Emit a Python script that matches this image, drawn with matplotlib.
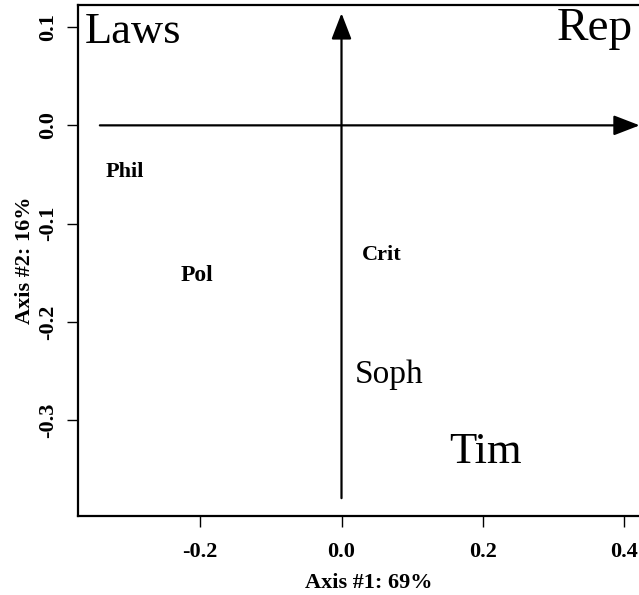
import matplotlib
matplotlib.use('Agg')
import matplotlib.pyplot as plt

plt.rcParams['font.family'] = ['Liberation Serif', 'DejaVu Serif']

# 书名及其在前两个轴上的坐标
labels = ['Laws', 'Rep', 'Phil', 'Pol', 'Crit', 'Soph', 'Tim']
axis1 = [-0.295, 0.359, -0.307, -0.204, 0.057, 0.068, 0.204]
axis2 = [0.095, 0.098, -0.047, -0.153, -0.132, -0.254, -0.332]
sizes = [32, 34, 16, 17, 16, 24, 32]
weights = ['normal', 'normal', 'bold', 'bold', 'bold', 'normal', 'normal']

x_ticks = [-0.2, 0.0, 0.2, 0.4]
y_ticks = [0.1, 0.0, -0.1, -0.2, -0.3]
x_label = 'Axis #1: 69%'
y_label = 'Axis #2: 16%'

fig = plt.figure(figsize=(6.39, 5.95), dpi=100)
ax = fig.add_axes([0.122, 0.133, 0.91, 0.858])
ax.set_xlim(-0.373, 0.45)
ax.set_ylim(-0.397, 0.122)

for lab, x, y, s, w in zip(labels, axis1, axis2, sizes, weights):
    ax.text(x, y, lab, fontsize=s, fontweight=w, ha='center', va='center')

# 坐标轴箭头
arrow = dict(arrowstyle='-|>,head_length=0.57,head_width=0.22', color='black',
             lw=1.6, mutation_scale=28, shrinkA=0, shrinkB=0)
ax.annotate('', xy=(0.422, 0), xytext=(-0.342, 0), arrowprops=arrow)
ax.annotate('', xy=(0, 0.114), xytext=(0, -0.379), arrowprops=arrow)

ax.set_xticks(x_ticks)
ax.set_xticklabels(['%.1f' % v for v in x_ticks], fontweight='bold', fontsize=16)
ax.set_yticks(y_ticks)
ax.set_yticklabels(['%.1f' % v for v in y_ticks], fontweight='bold', fontsize=16,
                   rotation=90, va='center')
ax.tick_params(length=8, width=1)
ax.tick_params(axis='x', pad=10.5)
ax.tick_params(axis='y', pad=6.5)
for sp in ax.spines.values():
    sp.set_linewidth(1.6)

ax.set_xlabel(x_label, fontweight='bold', fontsize=16, labelpad=8)
ax.set_ylabel(y_label, fontweight='bold', fontsize=16, labelpad=2)

fig.savefig('out.png', dpi=100)
